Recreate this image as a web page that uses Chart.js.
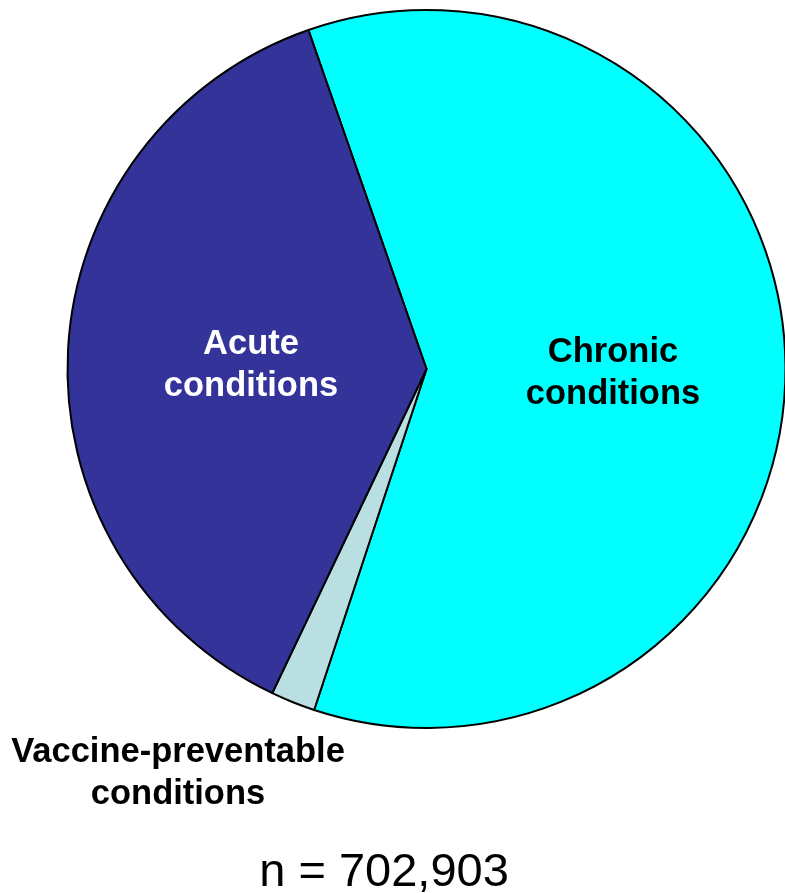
<!DOCTYPE html>
<html>
<head>
<meta charset="utf-8">
<script src="https://cdn.jsdelivr.net/npm/chart.js@4"></script>
<style>
  html, body { margin: 0; padding: 0; background: #fff; overflow: hidden; }
  #wrap { width: 785px; height: 893px; overflow: hidden; }
</style>
</head>
<body>
<div id="wrap"><canvas id="chart" width="800" height="893"></canvas></div>
<script>
const categories = ['Chronic conditions', 'Vaccine-preventable conditions', 'Acute conditions'];
const shares = [60.4, 2.0, 37.6];
const sliceColors = ['#00FFFF', '#B9DFE3', '#333399'];
const totalLabel = 'n = 702,903';

const FONT = '"Liberation Sans", Arial, sans-serif';

// Slice labels, placed like the original slide
const labelSpots = [
  { lines: ['Chronic', 'conditions'], x: 613, y: 362, color: '#000' },
  { lines: ['Vaccine-preventable', 'conditions'], x: 178, y: 762, color: '#000' },
  { lines: ['Acute', 'conditions'], x: 251, y: 354, color: '#fff' },
];

const ctx = document.getElementById('chart').getContext('2d');

new Chart(ctx, {
  type: 'pie',
  data: {
    labels: categories,
    datasets: [
      {
        data: shares,
        backgroundColor: sliceColors,
        borderColor: '#000',
        borderWidth: 2,
      },
    ],
  },
  options: {
    responsive: false,
    animation: false,
    rotation: -19.2,
    layout: {
      padding: { left: 66, right: 13, top: 9, bottom: 164 },
    },
    plugins: {
      legend: { display: false },
      tooltip: { enabled: false },
    },
  },
  plugins: [
    {
      id: 'sliceLabels',
      afterDatasetsDraw(chart) {
        const { ctx } = chart;
        ctx.save();
        ctx.textAlign = 'center';
        ctx.textBaseline = 'alphabetic';
        ctx.font = `bold 34.5px ${FONT}`;
        labelSpots.forEach((spot) => {
          ctx.fillStyle = spot.color;
          spot.lines.forEach((line, i) => {
            ctx.fillText(line, spot.x, spot.y + i * 42);
          });
        });

        ctx.fillStyle = '#000';
        ctx.font = `47px ${FONT}`;
        ctx.fillText(totalLabel, 384, 886);
        ctx.restore();
      },
    },
  ],
});
</script>
</body>
</html>
